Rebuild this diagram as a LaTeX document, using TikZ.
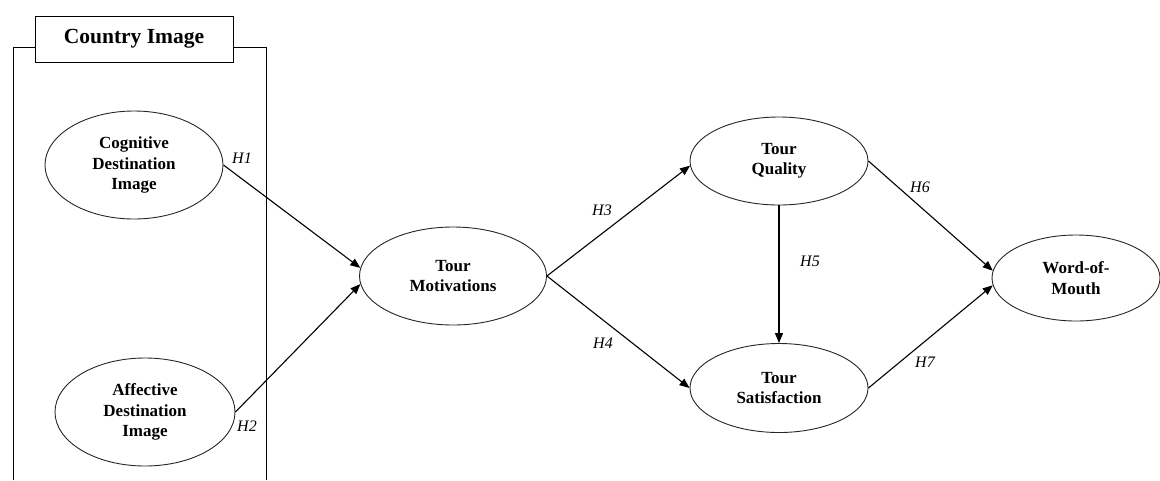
\documentclass[tikz,border=0pt]{standalone}
\usepackage{fontspec}
\setmainfont{Liberation Serif}
\usetikzlibrary{shapes.geometric,arrows.meta}
\begin{document}
\begin{tikzpicture}[x=1pt,y=-1pt,
  construct/.style={draw=black!85,line width=0.9pt,ellipse,inner sep=0pt,align=center,
    font=\bfseries\fontsize{17}{20.5}\selectfont},
  hlabel/.style={font=\itshape\fontsize{16}{18}\selectfont,inner sep=0pt},
  path/.style={line width=1.1pt,-{Triangle[length=10pt,width=8pt]}},
  frame/.style={line width=1pt}]
\useasboundingbox (0,0) rectangle (1160,480);
\node[draw,frame,minimum width=198pt,minimum height=46pt,inner sep=0pt,
  font=\bfseries\fontsize{21.5}{24}\selectfont] (title) at (134,39) {Country Image};
\coordinate (fl) at (13,480);
\coordinate (fr) at (266,480);
\draw[frame] (fl) -- (13,47) -- (title.west |- 0,47);
\draw[frame] (title.east |- 0,47) -- (266,47) -- (fr);

\node[construct,minimum width=178pt,minimum height=108pt] (cog) at (134,165) {Cognitive\\Destination\\Image};
\node[construct,minimum width=180pt,minimum height=108pt] (aff) at (145,412) {Affective\\Destination\\Image};
\node[construct,minimum width=187pt,minimum height=98pt] (mot) at (453,276) {Tour\\Motivations};
\node[construct,minimum width=178pt,minimum height=88pt] (qual) at (779,161) {Tour\\Quality};
\node[construct,minimum width=178pt,minimum height=89pt] (sat) at (779,388) {Tour\\Satisfaction};
\node[construct,minimum width=168pt,minimum height=86pt] (wom) at (1076,278) {Word-of-\\Mouth};

\draw[path] (cog.east) -- (mot.175);
\draw[path] (aff.east) -- (mot.185);
\draw[path] (mot.east) -- (qual.183);
\draw[path] (mot.east) -- (sat.west);
\draw[path] (qual.south) -- (sat.north);
\draw[path] (qual.east) -- (wom.175);
\draw[path] (sat.east) -- (wom.185);

\node[hlabel] (h1) at (242,158) {H1};
\node[hlabel] (h2) at (247,426) {H2};
\node[hlabel] (h3) at (602,210) {H3};
\node[hlabel] (h4) at (603,343) {H4};
\node[hlabel] (h5) at (810,261) {H5};
\node[hlabel] (h6) at (920,187) {H6};
\node[hlabel] (h7) at (925,362) {H7};
\end{tikzpicture}
\end{document}
